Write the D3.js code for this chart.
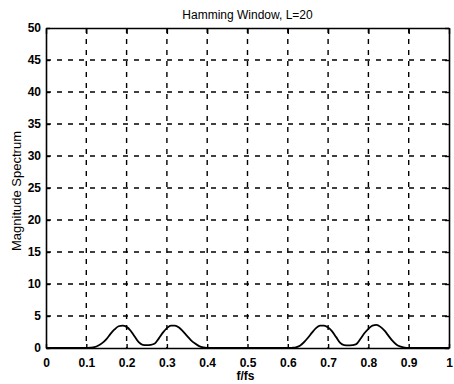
<!DOCTYPE html>
<html>
<head>
<meta charset="utf-8">
<script src="https://cdn.jsdelivr.net/npm/d3@7"></script>
<style>
  body { margin: 0; background: #fff; }
  svg { font-family: "Liberation Sans", Arial, sans-serif; }
</style>
</head>
<body>
<svg id="chart"></svg>
<script>
// tick values
const xTicks = [0, 0.1, 0.2, 0.3, 0.4, 0.5, 0.6, 0.7, 0.8, 0.9, 1];
const yTicks = [0, 5, 10, 15, 20, 25, 30, 35, 40, 45, 50];

// spectrum samples (f/fs, magnitude)
const freq = [0, 0.05, 0.1, 0.11, 0.12, 0.13, 0.14, 0.15, 0.16, 0.17, 0.18, 0.19,
  0.2, 0.21, 0.22, 0.23, 0.24, 0.25, 0.26, 0.27, 0.28, 0.29,
  0.3, 0.31, 0.32, 0.33, 0.34, 0.35, 0.36, 0.37, 0.38, 0.39, 0.4, 0.5,
  0.6, 0.61, 0.62, 0.63, 0.64, 0.65, 0.66, 0.67, 0.68, 0.69,
  0.7, 0.71, 0.72, 0.73, 0.74, 0.75, 0.76, 0.77, 0.78, 0.79,
  0.8, 0.81, 0.82, 0.83, 0.84, 0.85, 0.86, 0.87, 0.88, 0.89, 0.9, 1];
const magnitude = [0, 0, 0, 0.05, 0.15, 0.4, 0.8, 1.4, 2.2, 2.9, 3.4, 3.5,
  3.3, 2.7, 1.8, 0.9, 0.5, 0.45, 0.5, 0.7, 1.5, 2.4,
  3.1, 3.5, 3.5, 3.2, 2.6, 1.9, 1.2, 0.7, 0.3, 0.1, 0.03, 0,
  0, 0.03, 0.1, 0.35, 0.9, 1.6, 2.4, 3.1, 3.5, 3.5,
  3.2, 2.6, 1.7, 0.8, 0.45, 0.4, 0.45, 0.6, 1.4, 2.3,
  3.0, 3.5, 3.6, 3.3, 2.7, 1.9, 1.1, 0.5, 0.2, 0.05, 0, 0];

const data = freq.map((f, i) => ({ f: f, m: magnitude[i] }));

const width = 454, height = 384;
const margin = {top: 28, right: 5, bottom: 36, left: 46};
const w = width - margin.left - margin.right,
  h = height - margin.top - margin.bottom;

const x = d3.scaleLinear().domain([0, 1]).range([0, w]);
const y = d3.scaleLinear().domain([0, 50]).range([h, 0]);

const svg = d3.select("#chart")
  .attr("width", width)
  .attr("height", height);

const g = svg.append("g")
  .attr("transform", "translate(" + margin.left + "," + margin.top + ")");

// dashed grid
g.append("g")
  .selectAll("line")
  .data(xTicks.slice(1, -1))
  .join("line")
  .attr("x1", d => x(d)).attr("x2", d => x(d))
  .attr("y1", 0).attr("y2", h)
  .attr("stroke", "#000")
  .attr("stroke-width", 1.4)
  .attr("stroke-dasharray", "5,6");

g.append("g")
  .selectAll("line")
  .data(yTicks.slice(1, -1))
  .join("line")
  .attr("x1", 0).attr("x2", w)
  .attr("y1", d => y(d)).attr("y2", d => y(d))
  .attr("stroke", "#000")
  .attr("stroke-width", 1.4)
  .attr("stroke-dasharray", "5,6");

// axes, ticks pointing inward
const xAxis = g.append("g")
  .attr("transform", "translate(0," + h + ")")
  .call(d3.axisBottom(x).tickValues(xTicks).tickSizeInner(-4).tickSizeOuter(0)
    .tickPadding(10).tickFormat(d3.format("")));
const xTop = g.append("g")
  .call(d3.axisTop(x).tickValues(xTicks).tickSizeInner(-6).tickSizeOuter(0)
    .tickFormat(""));
const yAxis = g.append("g")
  .call(d3.axisLeft(y).tickValues(yTicks).tickSizeInner(-4).tickSizeOuter(0)
    .tickPadding(5));
const yRight = g.append("g")
  .attr("transform", "translate(" + w + ",0)")
  .call(d3.axisRight(y).tickValues(yTicks).tickSizeInner(-4).tickSizeOuter(0)
    .tickFormat(""));

[xAxis, xTop, yAxis, yRight].forEach(a => {
  a.select(".domain").attr("stroke", "#000").attr("stroke-width", 1.6);
  a.selectAll(".tick line").attr("stroke", "#000").attr("stroke-width", 1.4);
});

xAxis.selectAll("text")
  .attr("font-size", 12)
  .attr("font-weight", "bold")
  .attr("fill", "#000")
  .attr("font-family", "Liberation Sans, Arial, sans-serif");
yAxis.selectAll("text")
  .attr("font-size", 12)
  .attr("font-weight", "bold")
  .attr("fill", "#000")
  .attr("font-family", "Liberation Sans, Arial, sans-serif");

// spectrum line
const line = d3.line()
  .x(d => x(d.f))
  .y(d => y(d.m))
  .curve(d3.curveMonotoneX);

g.append("path")
  .datum(data)
  .attr("fill", "none")
  .attr("stroke", "#000")
  .attr("stroke-width", 1.8)
  .attr("d", line);

// labels
svg.append("text")
  .attr("x", margin.left + w / 2)
  .attr("y", 19)
  .attr("text-anchor", "middle")
  .attr("font-size", 12)
  .text("Hamming Window, L=20");

svg.append("text")
  .attr("x", margin.left + w / 2 - 2)
  .attr("y", 380)
  .attr("text-anchor", "middle")
  .attr("font-size", 12)
  .attr("font-weight", "bold")
  .text("f/fs");

svg.append("text")
  .attr("transform", "translate(21," + (margin.top + h / 2 + 3) + ") rotate(-90)")
  .attr("text-anchor", "middle")
  .attr("font-size", 13)
  .text("Magnitude Spectrum");
</script>
</body>
</html>
